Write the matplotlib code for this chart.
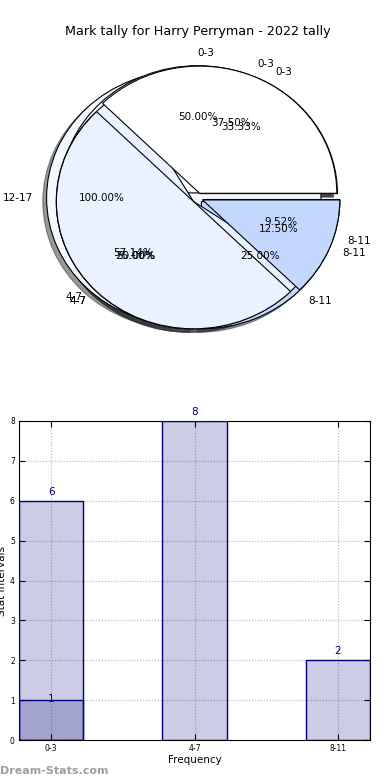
import matplotlib
matplotlib.use('Agg')
import matplotlib.pyplot as plt
import numpy as np

# pie data (several tallies drawn on top of each other)
labels = ['0-3', '4-7', '8-11']
tally_c = [2, 1, 1]
tally_b = [7, 12, 2]
tally_a = [6, 8, 2]
labels_d = ['12-17']
tally_d = [1]

# bar data
bar_cats = ['0-3', '4-7', '8-11']
bar_vals = [6, 8, 2]
extra_cats = ['0-3']
extra_vals = [1]

pie_colors = ['#FFFFFF', '#EAF1FF', '#C4D8FF']
navy = '#000080'

fig = plt.figure(figsize=(3.9, 7.8), dpi=100)
fig.patch.set_facecolor('white')

# ---- pie part
ax1 = fig.add_axes([26/390, 1-357/780, 343/390, 318/780])
wp = {'edgecolor': 'black', 'linewidth': 0.8}
tp = {'fontsize': 7.5}
shad = {'ox': -0.02, 'oy': -0.02, 'shade': 0.8}

ax1.pie(tally_d, labels=labels_d, colors=['#F4F8FF'], explode=[0.1],
        autopct='%1.2f%%', shadow=shad, wedgeprops=wp, textprops=tp)
for vals in [tally_c, tally_b, tally_a]:
    wedges, texts, autotexts = ax1.pie(vals, labels=labels, colors=pie_colors, explode=[0.04]*3,
                                       autopct='%1.2f%%', shadow=shad, wedgeprops=wp, textprops=tp)
    # the label straight on top sits right of the centre
    for t in texts:
        if abs(t.get_position()[0]) < 0.01:
            t.set_ha('left')
ax1.set_aspect('auto')
ax1.set_xlim(-1.25, 1.25)
ax1.set_ylim(-1.25, 1.25)
ax1.set_axis_off()
ax1.set_title('Mark tally for Harry Perryman - 2022 tally', fontsize=9.2, pad=3)

# ---- bar part
ax2 = fig.add_axes([19/390, 40/780, 351/390, 319/780])
x = np.arange(len(bar_cats))
ax2.bar(x, bar_vals, width=0.45, color=navy, alpha=0.2, zorder=2)
ax2.bar(x, bar_vals, width=0.45, facecolor='none', edgecolor=navy, linewidth=1, zorder=3)
xe = [bar_cats.index(c) for c in extra_cats]
ax2.bar(xe, extra_vals, width=0.45, color=navy, alpha=0.2, zorder=2)
ax2.bar(xe, extra_vals, width=0.45, facecolor='none', edgecolor=navy, linewidth=1, zorder=3)
for xi, v in zip(x, bar_vals):
    ax2.text(xi, v + 0.22, str(v), ha='center', va='center', color=navy, fontsize=7.5)
for xi, v in zip(xe, extra_vals):
    ax2.text(xi, v + 0.02, str(v), ha='center', va='center', color=navy, fontsize=7.5)

ax2.set_xlim(-0.225, len(bar_cats) - 1 + 0.225)
ax2.set_ylim(0, 8)
ax2.set_xticks(x)
ax2.set_xticklabels(bar_cats)
ax2.set_yticks(range(0, 9))
ax2.tick_params(direction='in', top=True, right=True, labelsize=5.5, length=4, pad=3)
ax2.grid(True, linestyle=':', color='0.7', linewidth=0.8, zorder=0)
ax2.set_axisbelow(True)
ax2.set_xlabel('Frequency', fontsize=7.5, labelpad=1)
ax2.set_ylabel('Stat Intervals', fontsize=7.5, labelpad=2)

fig.text(0.0, 1-771/780, 'Dream-Stats.com', color='0.62', fontsize=8, fontweight='bold',
         va='center', ha='left')

plt.savefig('out.png', dpi=100)
